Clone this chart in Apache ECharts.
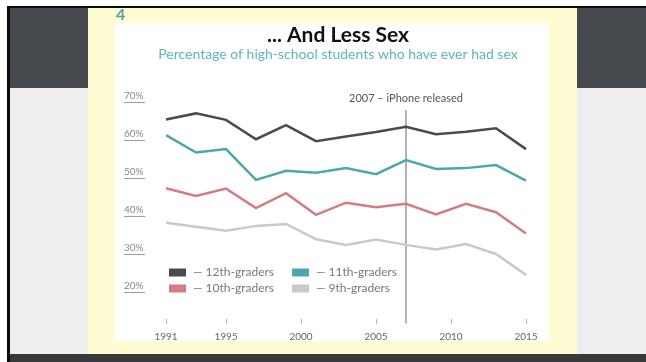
<!DOCTYPE html>
<html>
<head>
<meta charset="utf-8">
<script src="https://cdn.jsdelivr.net/npm/echarts@6/dist/echarts.min.js"></script>
<style>
  html, body { margin: 0; padding: 0; background: #fff; }
  #chart { width: 646px; height: 362px; }
</style>
</head>
<body>
<div id="chart"></div>
<script>
// Survey years (biennial) and share of students who have ever had sex (%)
const years = [1991, 1993, 1995, 1997, 1999, 2001, 2003, 2005, 2007, 2009, 2011, 2013, 2015];
const grade12 = [65.4, 67.0, 65.3, 60.2, 63.9, 59.7, 60.9, 62.1, 63.5, 61.5, 62.2, 63.1, 57.6];
const grade11 = [61.3, 56.7, 57.6, 49.5, 51.9, 51.4, 52.6, 51.0, 54.7, 52.4, 52.6, 53.4, 49.3];
const grade10 = [47.3, 45.3, 47.2, 42.1, 46.0, 40.3, 43.5, 42.3, 43.2, 40.4, 43.2, 41.0, 35.4];
const grade9  = [38.2, 37.2, 36.1, 37.4, 37.9, 33.9, 32.4, 33.8, 32.4, 31.2, 32.6, 30.0, 24.5];

const seriesNames = ['12th-graders', '11th-graders', '10th-graders', '9th-graders'];
const tickYears = [1991, 1995, 2000, 2005, 2010, 2015];
const pctTicks = [20, 30, 40, 50, 60, 70];

const eventYear = 2007;
const eventLabel = '2007 – iPhone released';
const eventSpan = [11.8, 67.9];

const colors = ['#4b4b4d', '#4aa7af', '#d57b82', '#c9c9cc'];
const FONT = 'Lato, "Noto Sans", sans-serif';

const pairs = (vals) => years.map((y, i) => [y, vals[i]]);

const chart = echarts.init(document.getElementById('chart'), null, { renderer: 'canvas' });

const lineSeries = [grade12, grade11, grade10, grade9].map((vals, i) => ({
  name: seriesNames[i],
  type: 'line',
  xAxisIndex: 0,
  yAxisIndex: 0,
  data: pairs(vals),
  symbol: 'none',
  lineStyle: { width: 2.5, color: colors[i], join: 'miter' },
  itemStyle: { color: colors[i] },
  z: 5
}));

// vertical event marker at the iPhone release year
lineSeries[0].markLine = {
  silent: true,
  symbol: 'none',
  animation: false,
  lineStyle: { color: '#9a9a9a', type: 'solid', width: 1.5 },
  label: {
    show: true,
    position: 'end',
    formatter: eventLabel,
    color: '#555',
    fontSize: 11,
    fontFamily: FONT,
    distance: 6
  },
  data: [[{ coord: [eventYear, eventSpan[0]] }, { coord: [eventYear, eventSpan[1]] }]]
};

const legendCommon = {
  orient: 'vertical',
  icon: 'rect',
  itemWidth: 17,
  itemHeight: 8,
  itemGap: 3,
  formatter: '— {name}',
  textStyle: { color: '#777', fontSize: 12, fontFamily: FONT, lineHeight: 13, padding: [0, 0, 0, 2] },
  selectedMode: false
};

chart.setOption({
  animation: false,
  backgroundColor: '#ffffff',
  graphic: [
    { type: 'rect', z: -20, shape: { x: 7, y: 6, width: 639, height: 356 }, style: { fill: '#0c0c0c' } },
    { type: 'rect', z: -19, shape: { x: 10, y: 8, width: 636, height: 80 }, style: { fill: '#45494d' } },
    { type: 'rect', z: -19, shape: { x: 10, y: 88, width: 636, height: 266 }, style: { fill: '#eeeeee' } },
    { type: 'rect', z: -19, shape: { x: 10, y: 354, width: 636, height: 8 }, style: { fill: '#38393b' } },
    { type: 'rect', z: -18, shape: { x: 88, y: 8, width: 489, height: 346 }, style: { fill: '#fffbd3' } },
    { type: 'rect', z: -17, shape: { x: 115, y: 23, width: 434, height: 318 }, style: { fill: '#ffffff' } },
    { type: 'text', z: -16, left: 116, top: 7, style: { text: '4', fill: '#4aa7af', font: 'bold 16px ' + FONT } }
  ],
  title: [
    {
      text: '... And Less Sex',
      left: 333, top: 20, textAlign: 'center',
      textStyle: { color: '#111', fontSize: 21, fontWeight: 'bold', fontFamily: FONT }
    },
    {
      text: 'Percentage of high-school students who have ever had sex',
      left: 333, top: 42, textAlign: 'center',
      textStyle: { color: '#5db5bb', fontSize: 14, fontWeight: 'normal', fontFamily: FONT }
    }
  ],
  legend: [
    Object.assign({ left: 164, top: 261, data: [seriesNames[0], seriesNames[2]] }, legendCommon),
    Object.assign({ left: 287, top: 261, data: [seriesNames[1], seriesNames[3]] }, legendCommon)
  ],
  grid: [
    { left: 166, right: 120, top: 102, height: 222, containLabel: false },
    { left: 124, width: 21, top: 102, height: 190, containLabel: false }
  ],
  xAxis: [
    {
      type: 'value', gridIndex: 0, min: 1991, max: 2015,
      axisLine: { show: false },
      splitLine: { show: false },
      axisTick: { show: true, inside: true, length: 5, customValues: tickYears, lineStyle: { color: '#b5b5b5', width: 1 } },
      axisLabel: {
        customValues: tickYears, color: '#666', fontSize: 10, fontFamily: FONT, margin: 8,
        formatter: (v) => String(v)
      }
    },
    {
      type: 'value', gridIndex: 1, min: 0, max: 1, show: false
    }
  ],
  yAxis: [
    {
      type: 'value', gridIndex: 0, min: 70 - 222 / 3.8, max: 70, show: false
    },
    {
      type: 'value', gridIndex: 1, min: 20, max: 70, interval: 10,
      axisLine: { show: false },
      axisTick: { show: false },
      splitLine: { show: true, lineStyle: { color: '#9c9c9c', width: 1 } },
      axisLabel: {
        inside: true, margin: 0, align: 'left', verticalAlign: 'bottom',
        color: '#888', fontSize: 10, fontFamily: FONT, padding: [0, 0, 1, 0],
        formatter: (v) => pctTicks.includes(v) ? v + '%' : ''
      }
    }
  ],
  series: lineSeries
});
</script>
</body>
</html>
